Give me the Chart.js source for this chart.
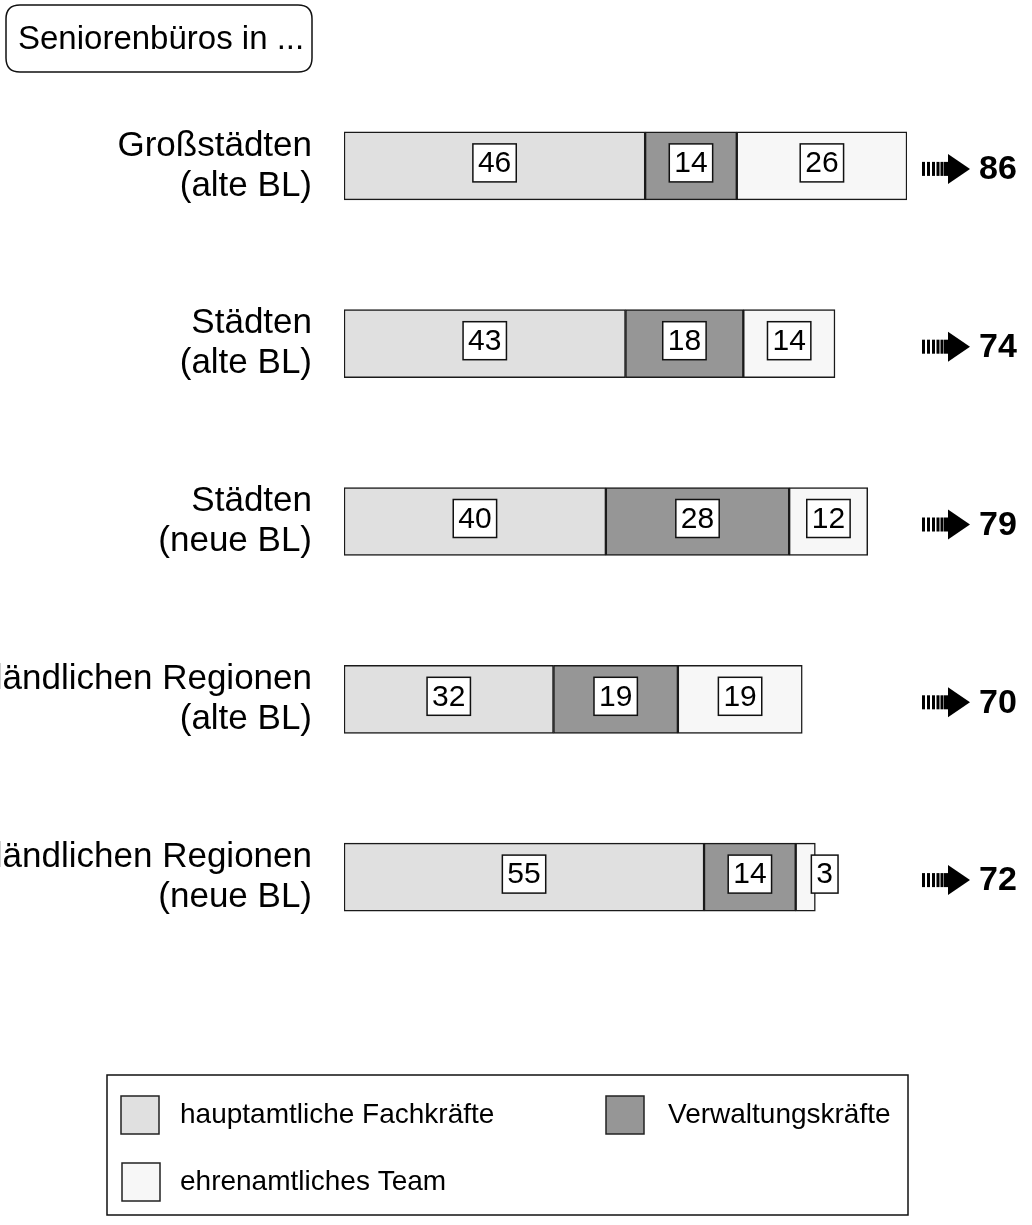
<!DOCTYPE html>
<html>
<head>
<meta charset="utf-8">
<script src="https://cdn.jsdelivr.net/npm/chart.js@4.4.0/dist/chart.umd.min.js"></script>
<style>
  html, body { margin: 0; padding: 0; background: #fff; }
  #wrap { width: 1032px; height: 1225px; position: relative; }
</style>
</head>
<body>
<div id="wrap"><canvas id="chart" width="1032" height="1225"></canvas></div>
<script>
// Data
const categories = [
    ["Großstädten", "(alte BL)"],
    ["Städten", "(alte BL)"],
    ["Städten", "(neue BL)"],
    ["ländlichen Regionen", "(alte BL)"],
    ["ländlichen Regionen", "(neue BL)"]
];
const fachkraefte = [46, 43, 40, 32, 55];
const verwaltung = [14, 18, 28, 19, 14];
const ehrenamt = [26, 14, 12, 19, 3];
const totals = [86, 74, 79, 70, 72];
const seriesNames = ["hauptamtliche Fachkräfte", "Verwaltungskräfte", "ehrenamtliches Team"];
const seriesColors = ["#e0e0e0", "#969696", "#f7f7f7"];
const titleText = "Seniorenbüros in ...";

const FONT = "'Liberation Sans', Arial, sans-serif";

function roundRect(ctx, x, y, w, h, r) {
    ctx.beginPath();
    ctx.moveTo(x + r, y);
    ctx.lineTo(x + w - r, y);
    ctx.quadraticCurveTo(x + w, y, x + w, y + r);
    ctx.lineTo(x + w, y + h - r);
    ctx.quadraticCurveTo(x + w, y + h, x + w - r, y + h);
    ctx.lineTo(x + r, y + h);
    ctx.quadraticCurveTo(x, y + h, x, y + h - r);
    ctx.lineTo(x, y + r);
    ctx.quadraticCurveTo(x, y, x + r, y);
    ctx.closePath();
}

// value boxes inside the segments, arrows + totals on the right
const valueBoxes = {
    id: 'valueBoxes',
    afterDatasetsDraw(chart) {
        const ctx = chart.ctx;
        ctx.save();
        ctx.font = "30px " + FONT;
        ctx.textAlign = "center";
        ctx.textBaseline = "middle";
        chart.data.datasets.forEach((ds, di) => {
            const meta = chart.getDatasetMeta(di);
            meta.data.forEach((bar, i) => {
                const txt = String(ds.data[i]);
                const w = ctx.measureText(txt).width + 10;
                const h = 38;
                const left = Math.min(bar.base, bar.x), right = Math.max(bar.base, bar.x);
                let cx = (left + right) / 2;
                if (w > right - left) cx = right - 4 + w / 2; // too narrow, push out
                const cy = bar.y - 3;
                ctx.fillStyle = "#fff";
                ctx.fillRect(cx - w / 2, cy - h / 2, w, h);
                ctx.lineWidth = 1.5;
                ctx.strokeStyle = "#111";
                ctx.strokeRect(cx - w / 2, cy - h / 2, w, h);
                ctx.fillStyle = "#000";
                ctx.fillText(txt, cx, cy + 1);
            });
        });

        // arrows with totals
        const yScale = chart.scales.y;
        totals.forEach((t, i) => {
            const y = yScale.getPixelForValue(i) + 3;
            const ax = 922;
            ctx.fillStyle = "#000";
            // striped shaft, denser towards the head
            const stripes = [[0, 3], [5, 3], [10, 3], [14.5, 3], [18.5, 3], [22, 5]];
            stripes.forEach(([sx, sw]) => ctx.fillRect(ax + sx, y - 7, sw, 14));
            // head
            ctx.beginPath();
            ctx.moveTo(ax + 26, y - 15);
            ctx.lineTo(ax + 48, y);
            ctx.lineTo(ax + 26, y + 15);
            ctx.closePath();
            ctx.fill();
            ctx.font = "bold 34px " + FONT;
            ctx.textAlign = "left";
            ctx.fillText(String(t), ax + 57, y + 1);
        });
        ctx.restore();
    },
    afterDraw(chart) {
        const ctx = chart.ctx;
        ctx.save();
        // title box top left
        ctx.lineWidth = 1.5;
        ctx.strokeStyle = "#111";
        roundRect(ctx, 6, 5, 306, 67, 14);
        ctx.stroke();
        ctx.fillStyle = "#000";
        ctx.font = "33px " + FONT;
        ctx.textAlign = "left";
        ctx.textBaseline = "middle";
        ctx.fillText(titleText, 18, 40);

        // legend box
        ctx.strokeRect(107, 1075, 801, 140);
        const items = [
            { x: 121, y: 1096, tx: 180 },
            { x: 606, y: 1096, tx: 668 },
            { x: 122, y: 1163, tx: 180 }
        ];
        ctx.font = "28px " + FONT;
        chart.data.datasets.forEach((ds, di) => {
            const it = items[di];
            ctx.fillStyle = ds.backgroundColor;
            ctx.fillRect(it.x, it.y, 38, 38);
            ctx.lineWidth = 1.5;
            ctx.strokeStyle = "#222";
            ctx.strokeRect(it.x, it.y, 38, 38);
            ctx.fillStyle = "#000";
            ctx.fillText(ds.label, it.tx, it.y + 19);
        });
        ctx.restore();
    }
};

const datasets = [fachkraefte, verwaltung, ehrenamt].map((vals, k) => ({
    label: seriesNames[k],
    data: vals,
    backgroundColor: seriesColors[k],
    borderColor: "#1a1a1a",
    borderWidth: 1.5,
    borderSkipped: false,
    barThickness: 68
}));

new Chart(document.getElementById("chart"), {
    type: 'bar',
    data: { labels: categories, datasets: datasets },
    plugins: [valueBoxes],
    options: {
        indexAxis: 'y',
        responsive: false,
        animation: false,
        layout: { padding: { top: 77, bottom: 259, left: 0, right: 125 } },
        scales: {
            x: {
                stacked: true,
                display: false,
                min: 0,
                max: 86
            },
            y: {
                stacked: true,
                grid: { display: false, drawTicks: false },
                border: { display: false },
                afterFit: (scale) => { scale.width = 344; },
                ticks: {
                    color: "#000",
                    padding: 32,
                    font: { family: FONT, size: 35, lineHeight: 1.14 }
                }
            }
        },
        plugins: {
            legend: { display: false },
            tooltip: { enabled: false }
        }
    }
});
</script>
</body>
</html>
